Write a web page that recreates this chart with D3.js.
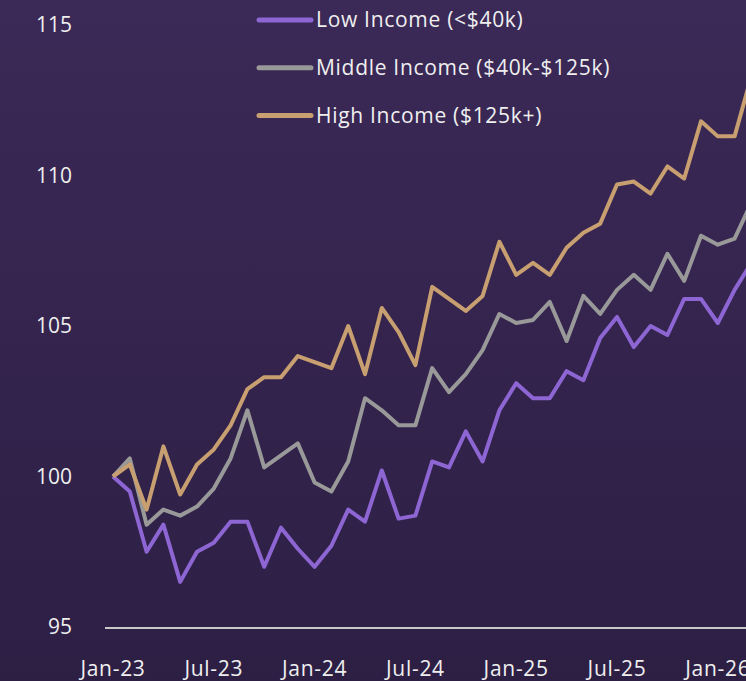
<!DOCTYPE html>
<html lang="en">
<head>
    <meta charset="UTF-8">
    <title>Spending index by income</title>
    <script src="https://d3js.org/d3.v7.min.js"></script>
    <style>
        html, body { margin: 0; padding: 0; overflow: hidden; }
        svg { display: block; }
        text { font-family: "Open Sans", "Noto Sans", sans-serif; fill: #efefef; }
        .spaced { letter-spacing: 0.7px; }
    </style>
</head>
<body>
<svg width="746" height="681"></svg>

<script>
    // months from Jan-23, one value per month
    const months = d3.range(39);
    const tickMonths = [0, 6, 12, 18, 24, 30, 36];
    const tickLabels = ["Jan-23", "Jul-23", "Jan-24", "Jul-24", "Jan-25", "Jul-25", "Jan-26"];
    const yTicks = [95, 100, 105, 110, 115];

    const lowIncome = [100, 99.5, 97.5, 98.4, 96.5, 97.5, 97.8, 98.5, 98.5, 97.0, 98.3, 97.6,
        97.0, 97.7, 98.9, 98.5, 100.2, 98.6, 98.7, 100.5, 100.3, 101.5, 100.5, 102.2,
        103.1, 102.6, 102.6, 103.5, 103.2, 104.6, 105.3, 104.3, 105.0, 104.7, 105.9, 105.9,
        105.1, 106.2, 107.1];
    const middleIncome = [100, 100.6, 98.4, 98.9, 98.7, 99.0, 99.6, 100.6, 102.2, 100.3, 100.7, 101.1,
        99.8, 99.5, 100.5, 102.6, 102.2, 101.7, 101.7, 103.6, 102.8, 103.4, 104.2, 105.4,
        105.1, 105.2, 105.8, 104.5, 106.0, 105.4, 106.2, 106.7, 106.2, 107.4, 106.5, 108.0,
        107.7, 107.9, 109.1];
    const highIncome = [100, 100.4, 98.9, 101.0, 99.4, 100.4, 100.9, 101.7, 102.9, 103.3, 103.3, 104.0,
        103.8, 103.6, 105.0, 103.4, 105.6, 104.8, 103.7, 106.3, 105.9, 105.5, 106.0, 107.8,
        106.7, 107.1, 106.7, 107.6, 108.1, 108.4, 109.7, 109.8, 109.4, 110.3, 109.9, 111.8,
        111.3, 111.3, 113.3];

    const seriesNames = ["Low Income (<$40k)", "Middle Income ($40k-$125k)", "High Income ($125k+)"];
    const seriesColors = ["#8d66d4", "#999999", "#c89f70"];
    const seriesValues = [lowIncome, middleIncome, highIncome];

    const svg = d3.select("svg");

    // background gradient
    const grad = svg.append("defs").append("linearGradient")
        .attr("id", "bg").attr("x1", 0).attr("y1", 0).attr("x2", 0).attr("y2", 1);
    grad.append("stop").attr("offset", "0%").attr("stop-color", "#3b2957");
    grad.append("stop").attr("offset", "100%").attr("stop-color", "#2d1f44");
    svg.append("rect").attr("width", 746).attr("height", 681).attr("fill", "url(#bg)");

    const x = d3.scaleLinear().domain([0, 36]).range([113, 717.8]);
    const y = d3.scaleLinear().domain([95, 115]).range([627, 25]);

    // y labels, no axis line
    svg.append("g").selectAll("text")
        .data(yTicks)
        .enter()
        .append("text")
        .attr("x", 72)
        .attr("y", d => y(d))
        .attr("dy", "0.35em")
        .attr("text-anchor", "end")
        .attr("font-size", 21)
        .text(d => d);

    // baseline
    svg.append("line")
        .attr("x1", 105).attr("x2", 746)
        .attr("y1", y(95) + 1).attr("y2", y(95) + 1)
        .attr("stroke", "#c9c9c9")
        .attr("stroke-width", 2);

    // x tick labels (last one runs off the edge, as in the source)
    svg.append("g").selectAll("text")
        .data(tickMonths)
        .enter()
        .append("text")
        .attr("class", "spaced")
        .attr("x", d => x(d))
        .attr("y", 676)
        .attr("text-anchor", "middle")
        .attr("font-size", 21)
        .text((d, i) => tickLabels[i]);

    const line = d3.line()
        .x((d, i) => x(months[i]))
        .y(d => y(d));

    svg.append("g").selectAll("path")
        .data(seriesValues)
        .enter()
        .append("path")
        .attr("d", d => line(d))
        .attr("fill", "none")
        .attr("stroke", (d, i) => seriesColors[i])
        .attr("stroke-width", 4)
        .attr("stroke-linejoin", "round");

    // legend
    const legend = svg.append("g").selectAll("g")
        .data(seriesNames)
        .enter()
        .append("g")
        .attr("transform", (d, i) => `translate(0,${20 + i * 47.8})`);

    legend.append("line")
        .attr("x1", 259).attr("x2", 311)
        .attr("stroke", (d, i) => seriesColors[i])
        .attr("stroke-width", 5)
        .attr("stroke-linecap", "round");

    legend.append("text")
        .attr("class", "spaced")
        .attr("x", 316)
        .attr("dy", "0.35em")
        .attr("font-size", 21)
        .text(d => d);
</script>
</body>
</html>
